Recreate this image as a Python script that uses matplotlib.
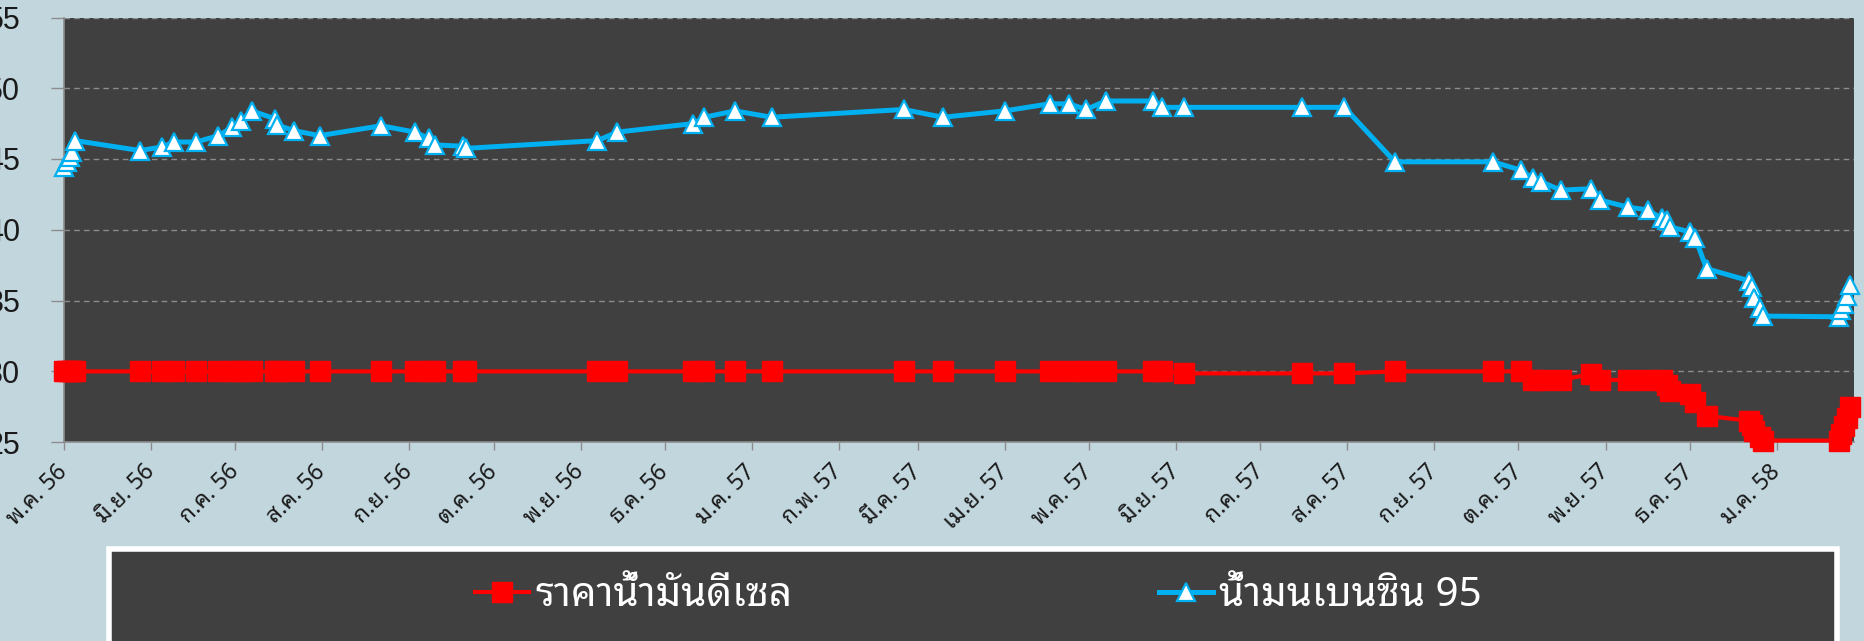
import matplotlib
matplotlib.use("Agg")
import matplotlib.pyplot as plt
import matplotlib.dates as mdates
from matplotlib.patches import Rectangle
from matplotlib.ticker import FuncFormatter, MultipleLocator
import pandas as pd

# data
dates = ["2013-05-01", "2013-05-02", "2013-05-03", "2013-05-04", "2013-05-05",
         "2013-05-28", "2013-06-05", "2013-06-09", "2013-06-17", "2013-06-25",
         "2013-06-30", "2013-07-03", "2013-07-07", "2013-07-15", "2013-07-16",
         "2013-07-22", "2013-07-31", "2013-08-22", "2013-09-03", "2013-09-08",
         "2013-09-10", "2013-09-20", "2013-09-21", "2013-11-07", "2013-11-14",
         "2013-12-11", "2013-12-15", "2013-12-26", "2014-01-08", "2014-02-24",
         "2014-03-10", "2014-04-01", "2014-04-17", "2014-04-24", "2014-04-30",
         "2014-05-07", "2014-05-24", "2014-05-27", "2014-06-04", "2014-07-16",
         "2014-07-31", "2014-08-18", "2014-09-22", "2014-10-02", "2014-10-06",
         "2014-10-09", "2014-10-16", "2014-10-27", "2014-10-30", "2014-11-09",
         "2014-11-16", "2014-11-21", "2014-11-23", "2014-11-24", "2014-12-01",
         "2014-12-03", "2014-12-07", "2014-12-22", "2014-12-23", "2014-12-24",
         "2014-12-26", "2014-12-27", "2015-01-23", "2015-01-24", "2015-01-25",
         "2015-01-26", "2015-01-27"]

diesel = [29.99, 29.99, 29.99, 29.99, 29.99, 29.99, 29.99, 29.99, 29.99, 29.99,
          29.99, 29.99, 29.99, 29.99, 29.99, 29.99, 29.99, 29.99, 29.99, 29.99,
          29.99, 29.99, 29.99, 29.99, 29.99, 29.99, 29.99, 29.99, 29.99, 29.99,
          29.99, 29.99, 29.99, 29.99, 29.99, 29.99, 29.99, 29.99, 29.85, 29.85,
          29.85, 29.99, 29.99, 29.99, 29.39, 29.39, 29.39, 29.8, 29.39, 29.39,
          29.39, 29.39, 29.0, 28.6, 28.4, 27.8, 26.85, 26.5, 26.2, 25.8,
          25.35, 25.1, 25.1, 25.55, 26.15, 26.7, 27.5]

benzin95 = [44.45, 44.8, 45.15, 45.5, 46.3, 45.6, 45.85, 46.2, 46.2, 46.65,
            47.25, 47.7, 48.4, 47.85, 47.4, 47.0, 46.65, 47.35, 46.9, 46.45,
            46.0, 45.9, 45.75, 46.3, 46.9, 47.5, 47.95, 48.4, 47.95, 48.5,
            47.95, 48.4, 48.9, 48.9, 48.5, 49.1, 49.1, 48.65, 48.65, 48.65,
            48.65, 44.8, 44.8, 44.2, 43.65, 43.4, 42.8, 42.9, 42.1, 41.6,
            41.4, 40.8, 40.7, 40.2, 39.85, 39.4, 37.25, 36.4, 35.95, 35.2,
            34.5, 33.9, 33.85, 34.3, 34.75, 35.35, 36.1]

series_names = ["ราคาน้ำมันดีเซล", "น้ำมนเบนซิน 95"]
thai_months = ["ม.ค.", "ก.พ.", "มี.ค.", "เม.ย.", "พ.ค.", "มิ.ย.",
               "ก.ค.", "ส.ค.", "ก.ย.", "ต.ค.", "พ.ย.", "ธ.ค."]

x = pd.to_datetime(dates)

bg = "#C2D6DE"
plot_bg = "#404040"
plt.rcParams["font.family"] = ["Noto Sans Thai Looped", "Liberation Sans", "DejaVu Sans"]

fig = plt.figure(figsize=(18.64, 6.41), dpi=100, facecolor=bg)
ax = fig.add_axes([64 / 1864, 1 - 442 / 641, (1854 - 64) / 1864, (442 - 17.5) / 641])
ax.set_facecolor(plot_bg)

red_line, = ax.plot(x, diesel, color="#FF0000", lw=3, marker="s", ms=14,
                    mec="#FF0000", clip_on=False, zorder=3, label=series_names[0])
blue_line, = ax.plot(x, benzin95, color="#00B0F0", lw=3.6, marker="^", ms=13.5,
                     mfc="white", mec="#00B0F0", mew=1.6, clip_on=False, zorder=4,
                     label=series_names[1])

ax.set_ylim(25, 55)
ax.set_xlim(pd.Timestamp("2013-05-01"), pd.Timestamp("2015-01-28 12:00"))
ax.yaxis.set_major_locator(MultipleLocator(5))
ax.grid(axis="y", color="#8C8C8C", ls=(0, (4, 3)), lw=1)
ax.set_axisbelow(True)

# Thai month abbreviations with Buddhist-era year
ax.xaxis.set_major_locator(mdates.MonthLocator())
ax.xaxis.set_major_formatter(FuncFormatter(
    lambda v, pos: "%s %02d" % (thai_months[mdates.num2date(v).month - 1],
                                (mdates.num2date(v).year + 543) % 100)))

for side in ["top", "right"]:
    ax.spines[side].set_visible(False)
for side in ["left", "bottom"]:
    ax.spines[side].set_color("#8C8C8C")
    ax.spines[side].set_linewidth(1.2)

ax.tick_params(axis="y", length=9.5, width=1, color="#8C8C8C", pad=22,
               labelsize=22, labelcolor="#1a1a1a")
ax.tick_params(axis="x", length=6, width=1, color="#8C8C8C", pad=13,
               labelsize=16.5, labelcolor="#1a1a1a")
for lab in ax.get_yticklabels():
    lab.set_family(["Liberation Sans", "DejaVu Sans"])
for lab in ax.get_xticklabels():
    lab.set_rotation(45)
    lab.set_ha("right")
    lab.set_va("center")
    lab.set_rotation_mode("anchor")

# legend box
fig.patches.append(Rectangle((109 / 1864, -0.1), (1837 - 109) / 1864, 0.1 + 1 - 549 / 641,
                             transform=fig.transFigure, facecolor=plot_bg,
                             edgecolor="white", lw=4, zorder=0))
for line, xpos in [(red_line, 475 / 1864), (blue_line, 1159 / 1864)]:
    fig.legend(handles=[line], loc="center left", bbox_to_anchor=(xpos, 1 - 596 / 641),
               frameon=False, prop={"size": 29, "weight": "bold"}, labelcolor="white",
               handlelength=1.35, handletextpad=0.15, borderpad=0, borderaxespad=0)

fig.savefig("out.png", dpi=100, facecolor=bg)
